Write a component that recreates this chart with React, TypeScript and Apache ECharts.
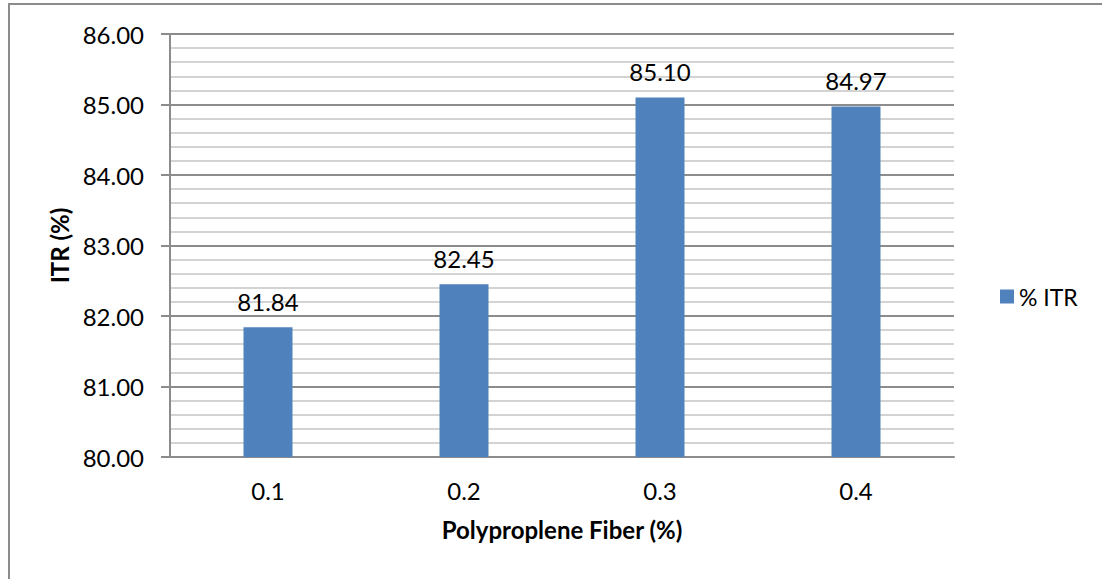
import React, { useEffect, useRef } from "react";
import * as echarts from "echarts";

const categories = ["0.1", "0.2", "0.3", "0.4"];
const itrValues = [81.84, 82.45, 85.1, 84.97];
const seriesName = "% ITR";
const xAxisTitle = "Polyproplene Fiber (%)";
const yAxisTitle = "ITR (%)";

export default function App() {
  const ref = useRef<HTMLDivElement>(null);
  useEffect(() => {
    if (!ref.current) return;
    const chart = echarts.init(ref.current, null, { renderer: "svg" });
    const font = "Lato, Carlito, Calibri, sans-serif";
    chart.setOption({
      animation: false,
      backgroundColor: "#ffffff",
      textStyle: { fontFamily: font },
      graphic: [
        {
          type: "rect",
          shape: { x: 9, y: 4, width: 1300, height: 800 },
          style: { fill: "none", stroke: "#8c8c8c", lineWidth: 2 },
          silent: true,
        },
      ],
      grid: { left: 170, right: 148, top: 34, bottom: 122, containLabel: false },
      legend: {
        show: true,
        left: 995,
        top: 280,
        itemWidth: 14,
        itemHeight: 14,
        itemGap: 6,
        icon: "rect",
        textStyle: { fontFamily: font, fontSize: 23, color: "#000" },
        data: [seriesName],
      },
      xAxis: {
        type: "category",
        data: categories,
        name: xAxisTitle,
        nameLocation: "middle",
        nameGap: 60,
        nameTextStyle: { fontFamily: font, fontSize: 24, fontWeight: "bold", color: "#000" },
        axisLine: { show: true, lineStyle: { color: "#8c8c8c", width: 2 } },
        axisTick: { show: false },
        axisLabel: { fontFamily: font, fontSize: 24, color: "#000", margin: 21 },
        splitLine: { show: false },
      },
      yAxis: {
        type: "value",
        min: 80,
        max: 86,
        interval: 1,
        name: yAxisTitle,
        nameLocation: "middle",
        nameGap: 97,
        nameRotate: 90,
        nameTextStyle: { fontFamily: font, fontSize: 24, fontWeight: "bold", color: "#000" },
        axisLine: { show: true, lineStyle: { color: "#8c8c8c", width: 2 } },
        axisTick: { show: true, inside: false, length: 9, lineStyle: { color: "#8c8c8c", width: 2 } },
        axisLabel: {
          fontFamily: font,
          fontSize: 24,
          color: "#000",
          margin: 26,
          formatter: (v: number) => v.toFixed(2),
        },
        splitLine: { show: true, lineStyle: { color: "#8c8c8c", width: 2 } },
        minorTick: { show: false, splitNumber: 5 },
        minorSplitLine: { show: true, lineStyle: { color: "#c4c4c4", width: 1.5 } },
      },
      series: [
        {
          name: seriesName,
          type: "bar",
          data: itrValues,
          barWidth: "25%",
          itemStyle: { color: "#4f81bd" },
          label: {
            show: true,
            position: "top",
            distance: 14,
            fontFamily: font,
            fontSize: 24,
            color: "#000",
            formatter: (p: any) => Number(p.value).toFixed(2),
          },
        },
      ],
    });
    return () => chart.dispose();
  }, []);
  return (
    <div
      ref={ref}
      style={{ position: "fixed", left: 0, top: 0, width: 1102, height: 579, background: "#fff" }}
    />
  );
}
